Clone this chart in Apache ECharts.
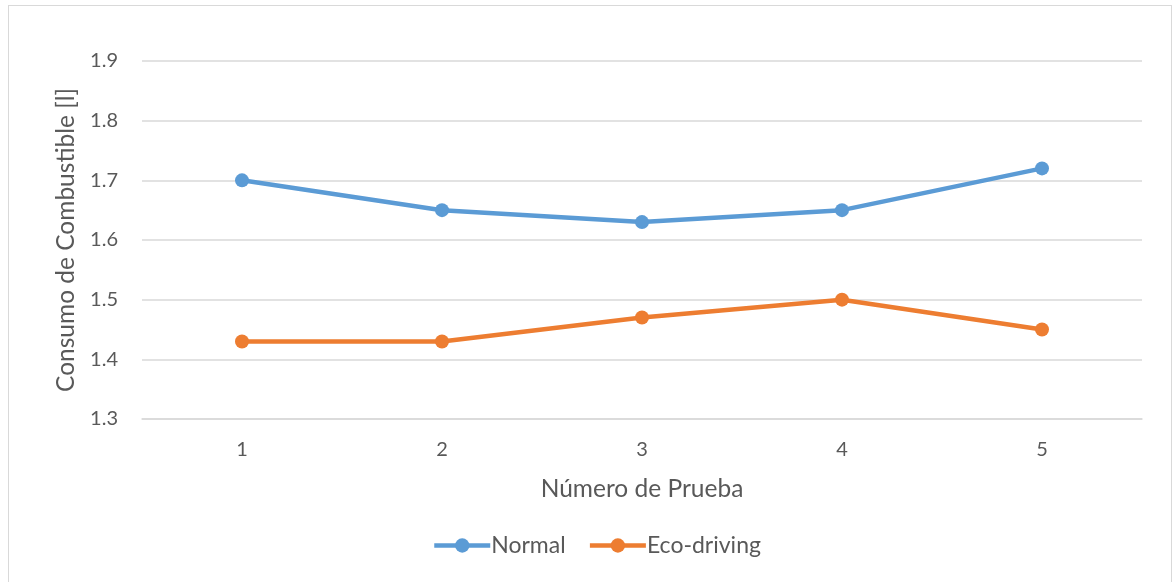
<!DOCTYPE html>
<html>
<head>
<meta charset="utf-8">
<script src="https://cdn.jsdelivr.net/npm/echarts@6/dist/echarts.min.js"></script>
<style>
  html, body { margin: 0; padding: 0; background: #fff; }
  #frame { position: absolute; left: 8px; top: 5px; width: 1164px; height: 600px; border: 1px solid #d9d9d9; box-sizing: border-box; }
  #chart { position: absolute; left: 0; top: 0; width: 1173px; height: 582px; }
</style>
</head>
<body>
<div id="frame"></div>
<div id="chart"></div>
<script>
const categories = ['1', '2', '3', '4', '5'];
const normal = [1.70, 1.65, 1.63, 1.65, 1.72];
const ecoDriving = [1.43, 1.43, 1.47, 1.50, 1.45];
const seriesNames = ['Normal', 'Eco-driving'];
const colors = ['#5B9BD5', '#ED7D31'];
const FONT = 'Lato, "Open Sans", sans-serif';
const TEXT = '#595959';

const chart = echarts.init(document.getElementById('chart'), null, { renderer: 'canvas' });

function lineSeries(name, data, color) {
  return {
    name: name,
    type: 'line',
    data: data,
    symbol: 'circle',
    symbolSize: 14,
    lineStyle: { width: 4.5, color: color },
    itemStyle: { color: color },
    emphasis: { disabled: true }
  };
}

chart.setOption({
  animation: false,
  color: colors,
  textStyle: { fontFamily: FONT, color: TEXT },
  grid: { left: 142, right: 31, top: 61, bottom: 163 },
  xAxis: {
    type: 'category',
    data: categories,
    boundaryGap: true,
    name: 'Número de Prueba',
    nameLocation: 'middle',
    nameGap: 58,
    nameTextStyle: { fontSize: 24.5, color: TEXT, fontFamily: FONT },
    axisLine: { show: true, lineStyle: { color: '#d9d9d9', width: 1.5 } },
    axisTick: { show: false },
    axisLabel: { fontSize: 20, color: TEXT, margin: 21, fontFamily: FONT }
  },
  yAxis: {
    type: 'value',
    min: 1.3,
    max: 1.9,
    interval: 0.1,
    name: 'Consumo de Combustible [l]',
    nameLocation: 'middle',
    nameGap: 63,
    nameTextStyle: { fontSize: 24.5, color: TEXT, fontFamily: FONT },
    axisLine: { show: false },
    axisTick: { show: false },
    splitLine: { lineStyle: { color: '#d9d9d9', width: 1.5 } },
    axisLabel: {
      fontSize: 20, color: TEXT, margin: 24, fontFamily: FONT,
      formatter: v => v.toFixed(1)
    }
  },
  legend: {
    bottom: 20,
    left: 427,
    itemWidth: 56,
    itemHeight: 18,
    itemGap: 22,
    itemStyle: { borderWidth: 0 },
    lineStyle: { width: 4.5 },
    textStyle: { fontSize: 23, color: TEXT, fontFamily: FONT, padding: [0, 0, 0, -4] },
    data: seriesNames
  },
  series: [
    lineSeries(seriesNames[0], normal, colors[0]),
    lineSeries(seriesNames[1], ecoDriving, colors[1])
  ]
});
</script>
</body>
</html>
